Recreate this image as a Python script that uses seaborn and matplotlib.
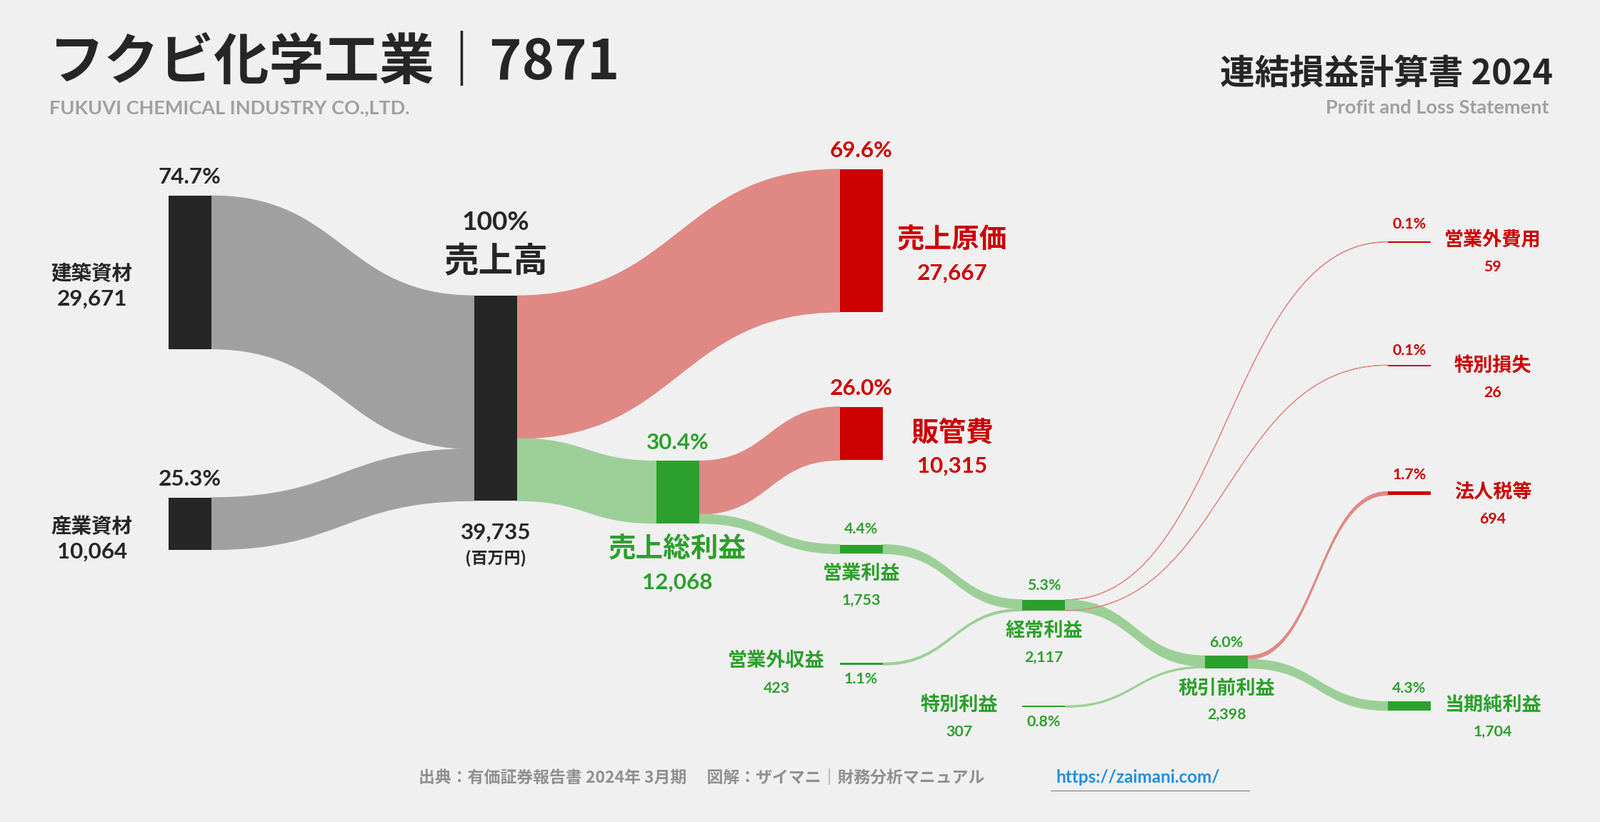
import numpy as np
import matplotlib.pyplot as plt
import seaborn as sns
from matplotlib.path import Path
from matplotlib.patches import PathPatch, Rectangle

# values in million yen
segments = ["建築資材", "産業資材"]
segment_values = [29671, 10064]
revenue = 39735
cogs = 27667
sga = 10315
gross_profit = 12068
op_income = 1753
non_op_income = 423
non_op_expense = 59
ordinary_income = 2117
special_gain = 307
special_loss = 26
pretax_income = 2398
taxes = 694
net_income = 1704

sns.set_theme(style="white", rc={"font.family": "Noto Sans CJK JP"})

BG = "#f0f0f0"
DARK = "#262626"
RED = "#cc0000"
GREEN = "#2ca02c"
GRAY_F = "#a0a0a0"
RED_F = "#e08884"
GREEN_F = "#9ccf97"

W, H = 1568, 806
fig = plt.figure(figsize=(22.4, 11.51), dpi=100, facecolor=BG)
ax = fig.add_axes([0, 0, 1, 1])
ax.set_xlim(0, W)
ax.set_ylim(H, 0)
ax.axis("off")
ax.set_facecolor(BG)

k = 201 / revenue  # px per million yen
NW = 42


def h(v):
    return v * k


def node(x, y, v, color, minh=0):
    ax.add_patch(Rectangle((x, y), NW, max(h(v), minh), color=color, lw=0, zorder=3))


def band(x0, a0, x1, a1, v, color, alpha=1.0):
    t = h(v)
    xm = (x0 + x1) / 2
    verts = [(x0, a0), (xm, a0), (xm, a1), (x1, a1),
             (x1, a1 + t), (xm, a1 + t), (xm, a0 + t), (x0, a0 + t), (x0, a0)]
    codes = [Path.MOVETO, Path.CURVE4, Path.CURVE4, Path.CURVE4,
             Path.LINETO, Path.CURVE4, Path.CURVE4, Path.CURVE4, Path.CLOSEPOLY]
    ax.add_patch(PathPatch(Path(verts, codes), fc=color, ec=color, lw=0.8, alpha=alpha, zorder=2))


def T(x, y, s, size, color=DARK, ha="center", weight="bold", font=None):
    kw = {"family": font} if font else {}
    ax.text(x, y, s, fontsize=size * 1.4286 * 0.72, color=color, ha=ha, va="center",
            fontweight=weight, zorder=5, **kw)


# node tops
y_seg = [192, 488]
y_rev = 290
y_cogs, y_sga, y_gp = 166, 399, 452
y_op, y_ord, y_pre, y_net = 534, 588, 643, 688
y_tax, y_nonop_exp, y_sp_loss = 482, 237, 358
y_nonop_inc, y_sp_gain = 650, 692

# flows
band(207, y_seg[0], 465, y_rev, segment_values[0], GRAY_F)
band(207, y_seg[1], 465, y_rev + h(segment_values[0]), segment_values[1], GRAY_F)
band(507, y_rev, 823, y_cogs, cogs, RED_F)
band(507, y_rev + h(cogs), 643, y_gp, gross_profit, GREEN_F)
band(685, y_gp, 823, y_sga, sga, RED_F)
band(685, y_gp + h(sga), 823, y_op, op_income, GREEN_F)
band(865, y_op, 1002, y_ord, op_income, GREEN_F)
band(865, y_nonop_inc, 1002, y_ord + h(op_income), non_op_income, GREEN_F)
band(1044, y_ord, 1360, y_nonop_exp, non_op_expense, RED_F)
band(1044, y_ord + h(non_op_expense), 1181, y_pre, ordinary_income - non_op_expense - special_loss, GREEN_F)
band(1044, y_ord + h(ordinary_income - special_loss), 1360, y_sp_loss, special_loss, RED_F)
band(1044, y_sp_gain, 1181, y_pre + h(ordinary_income - non_op_expense - special_loss), special_gain, GREEN_F)
band(1223, y_pre, 1360, y_tax, taxes, RED_F)
band(1223, y_pre + h(taxes), 1360, y_net, net_income, GREEN_F)

# nodes
node(165, y_seg[0], segment_values[0], DARK)
node(165, y_seg[1], segment_values[1], DARK)
node(465, y_rev, revenue, DARK)
node(823, y_cogs, cogs, RED)
node(823, y_sga, sga, RED)
node(643, y_gp, gross_profit, GREEN)
node(823, y_op, op_income, GREEN)
node(1002, y_ord, ordinary_income, GREEN)
node(1181, y_pre, pretax_income, GREEN)
node(1360, y_net, net_income, GREEN)
node(1360, y_tax, taxes, RED)
node(1360, y_nonop_exp, non_op_expense, RED, minh=1.2)
node(1360, y_sp_loss, special_loss, RED, minh=1.2)
node(823, y_nonop_inc, non_op_income, GREEN, minh=1.5)
node(1002, y_sp_gain, special_gain, GREEN, minh=1.5)


def pct(v):
    return f"{v / revenue * 100:.1f}%"


# header
T(48, 62, "フクビ化学工業｜7871", 54, ha="left", weight="heavy")
T(48, 106, "FUKUVI CHEMICAL INDUSTRY CO.,LTD.", 19, "#a0a0a0", ha="left", font="Lato")
T(1522, 72, "連結損益計算書 2024", 34, ha="right", weight="heavy")
T(1518, 106, "Profit and Loss Statement", 19, "#a0a0a0", ha="right", font="Lato")

# labels
T(186, 174, pct(segment_values[0]), 22, font="Lato")
T(90, 268, segments[0], 20)
T(90, 293, f"{segment_values[0]:,}", 22, font="Lato")
T(186, 470, pct(segment_values[1]), 22, font="Lato")
T(90, 516, segments[1], 20)
T(90, 541, f"{segment_values[1]:,}", 22, font="Lato")
T(486, 218, "100%", 26, font="Lato")
T(486, 257, "売上高", 34)
T(486, 522, f"{revenue:,}", 22, font="Lato")
T(486, 548, "(百万円)", 16)

T(844, 148, pct(cogs), 22, RED, font="Lato")
T(933, 235, "売上原価", 27, RED)
T(933, 268, f"{cogs:,}", 22, RED, font="Lato")
T(844, 381, pct(sga), 22, RED, font="Lato")
T(933, 424, "販管費", 27, RED)
T(933, 457, f"{sga:,}", 22, RED, font="Lato")
T(664, 434, pct(gross_profit), 22, GREEN, font="Lato")
T(664, 538, "売上総利益", 27, GREEN)
T(664, 571, f"{gross_profit:,}", 22, GREEN, font="Lato")

T(844, 519, pct(op_income), 15, GREEN, font="Lato")
T(844, 562, "営業利益", 19, GREEN)
T(844, 589, f"{op_income:,}", 15, GREEN, font="Lato")
T(1023, 574, pct(ordinary_income), 15, GREEN, font="Lato")
T(1023, 618, "経常利益", 19, GREEN)
T(1023, 645, f"{ordinary_income:,}", 15, GREEN, font="Lato")
T(1202, 630, pct(pretax_income), 15, GREEN, font="Lato")
T(1202, 675, "税引前利益", 19, GREEN)
T(1202, 701, f"{pretax_income:,}", 15, GREEN, font="Lato")
T(1381, 675, pct(net_income), 15, GREEN, font="Lato")
T(1463, 691, "当期純利益", 19, GREEN)
T(1463, 718, f"{net_income:,}", 15, GREEN, font="Lato")

T(761, 648, "営業外収益", 19, GREEN)
T(761, 675, f"{non_op_income:,}", 15, GREEN, font="Lato")
T(844, 666, pct(non_op_income), 15, GREEN, font="Lato")
T(940, 691, "特別利益", 19, GREEN)
T(940, 718, f"{special_gain:,}", 15, GREEN, font="Lato")
T(1023, 708, pct(special_gain), 15, GREEN, font="Lato")

T(1381, 220, pct(non_op_expense), 15, RED, font="Lato")
T(1463, 235, "営業外費用", 19, RED)
T(1463, 262, f"{non_op_expense:,}", 15, RED, font="Lato")
T(1381, 344, pct(special_loss), 15, RED, font="Lato")
T(1463, 358, "特別損失", 19, RED)
T(1463, 385, f"{special_loss:,}", 15, RED, font="Lato")
T(1381, 466, pct(taxes), 15, RED, font="Lato")
T(1463, 482, "法人税等", 19, RED)
T(1463, 509, f"{taxes:,}", 15, RED, font="Lato")

# footer
T(410, 762, "出典：有価証券報告書 2024年 3月期　 図解：ザイマニ｜財務分析マニュアル", 16, "#909090", ha="left")
T(1035, 762, "https://zaimani.com/", 17, "#1f8fe0", ha="left", font="Lato")
ax.plot([1030, 1224], [775, 775], color="#909090", lw=1)

fig.savefig("out.png", dpi=100, facecolor=BG)
